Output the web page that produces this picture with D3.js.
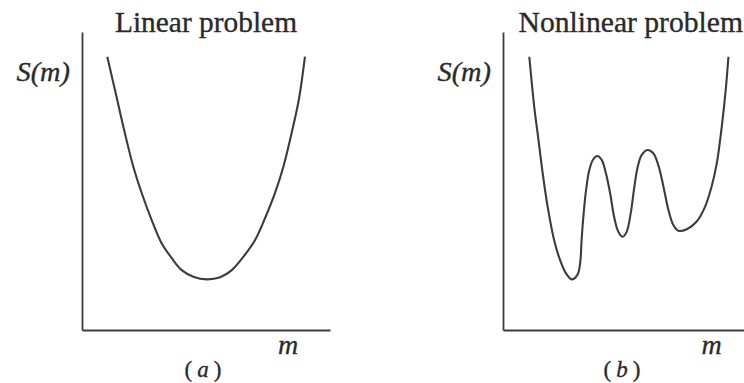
<!DOCTYPE html>
<html>
<head>
<meta charset="utf-8">
<script src="https://cdn.jsdelivr.net/npm/d3@7"></script>
<style>
  html, body { margin: 0; padding: 0; background: #fff; }
  svg { display: block; }
</style>
</head>
<body>
<svg id="chart" width="744" height="383"></svg>
<script>
// Misfit S(m) sampled along the model parameter m (both axes in relative units 0..1)
const linearM = [0.102, 0.133, 0.173, 0.207, 0.241, 0.281, 0.321, 0.362, 0.402, 0.449, 0.503,
                 0.557, 0.604, 0.651, 0.698, 0.738, 0.778, 0.812, 0.845, 0.875, 0.899];
const linearS = [0.917, 0.805, 0.660, 0.548, 0.459, 0.369, 0.291, 0.241, 0.201, 0.179, 0.170,
                 0.177, 0.201, 0.246, 0.302, 0.375, 0.459, 0.548, 0.660, 0.776, 0.917];

const nonlinearM = [0.106, 0.126, 0.143, 0.160, 0.180, 0.206, 0.230, 0.254, 0.277, 0.300, 0.311,
                    0.317, 0.324, 0.335, 0.348, 0.364, 0.380, 0.398, 0.415, 0.432, 0.448, 0.465,
                    0.483, 0.499, 0.515, 0.528, 0.542, 0.559, 0.583, 0.606, 0.626, 0.647, 0.667,
                    0.687, 0.707, 0.741, 0.781, 0.815, 0.841, 0.862, 0.882, 0.898, 0.909];
const nonlinearS = [0.917, 0.749, 0.638, 0.526, 0.414, 0.302, 0.235, 0.190, 0.170, 0.185, 0.224,
                    0.302, 0.380, 0.470, 0.537, 0.573, 0.584, 0.571, 0.526, 0.459, 0.380, 0.330,
                    0.313, 0.330, 0.392, 0.470, 0.543, 0.587, 0.604, 0.593, 0.554, 0.481, 0.403,
                    0.352, 0.333, 0.338, 0.364, 0.414, 0.481, 0.559, 0.682, 0.805, 0.917];

const panelTitles = ["Linear problem", "Nonlinear problem"];
const panelTags = ["a", "b"];
const yLabel = "S(m)";
const xLabel = "m";

const svg = d3.select("#chart");
const ink = "#3c3c3c";
const textInk = "#2a2a2a";

const panels = [
  { m: linearM, s: linearS, left: 82, title: panelTitles[0], titleX: 115, titleW: 182, tag: panelTags[0], mX: 278, tagX: 184.5 },
  { m: nonlinearM, s: nonlinearS, left: 503, title: panelTitles[1], titleX: 518.5, titleW: 224.5, tag: panelTags[1], mX: 701.5, tagX: 603.5 }
];

const plotW = 248, plotTop = 32, plotBottom = 330;
const y = d3.scaleLinear().domain([0, 1]).range([plotBottom, plotTop]);

function label(g, x, yPos, size, str) {
  return g.append("text")
    .attr("x", x).attr("y", yPos)
    .attr("font-family", "'Liberation Serif', 'Times New Roman', serif")
    .attr("font-size", size)
    .attr("fill", textInk)
    .attr("stroke", textInk)
    .attr("stroke-width", 0.35)
    .text(str);
}

panels.forEach(p => {
  const x = d3.scaleLinear().domain([0, 1]).range([p.left, p.left + plotW]);
  const g = svg.append("g");

  // Bare axes: only the axis lines, no ticks
  const ax = g.append("g").attr("transform", `translate(0,${plotBottom})`)
    .call(d3.axisBottom(x).tickValues([]).tickSizeOuter(0));
  const ay = g.append("g").attr("transform", `translate(${p.left},0)`)
    .call(d3.axisLeft(y).tickValues([]).tickSizeOuter(0));
  [ax, ay].forEach(a => a.select(".domain").attr("stroke", ink).attr("stroke-width", 1.8));

  // Misfit curve
  const line = d3.line()
    .x((d, i) => x(p.m[i]))
    .y((d, i) => y(p.s[i]))
    .curve(d3.curveCatmullRom.alpha(0.5));
  g.append("path")
    .datum(p.s)
    .attr("d", line)
    .attr("fill", "none")
    .attr("stroke", ink)
    .attr("stroke-width", 2.1)
    .attr("stroke-linejoin", "round");

  // Title
  label(g, p.titleX, 31.5, 29.5, p.title)
    .attr("textLength", p.titleW)
    .attr("lengthAdjust", "spacingAndGlyphs");

  // Y label S(m)
  label(g, p.left - 65.5, 81, 28, yLabel)
    .attr("font-style", "italic")
    .attr("textLength", 53.5)
    .attr("lengthAdjust", "spacingAndGlyphs");

  // X label m
  label(g, p.mX, 353.5, 28, xLabel)
    .attr("font-style", "italic");

  // Panel tag (a) / (b)
  const t = label(g, p.tagX, 376.5, 23, null)
    .attr("textLength", 37)
    .attr("lengthAdjust", "spacing")
    .style("white-space", "pre");
  t.append("tspan").text("( ");
  t.append("tspan").attr("font-style", "italic").text(p.tag);
  t.append("tspan").text(" )");
});
</script>
</body>
</html>
